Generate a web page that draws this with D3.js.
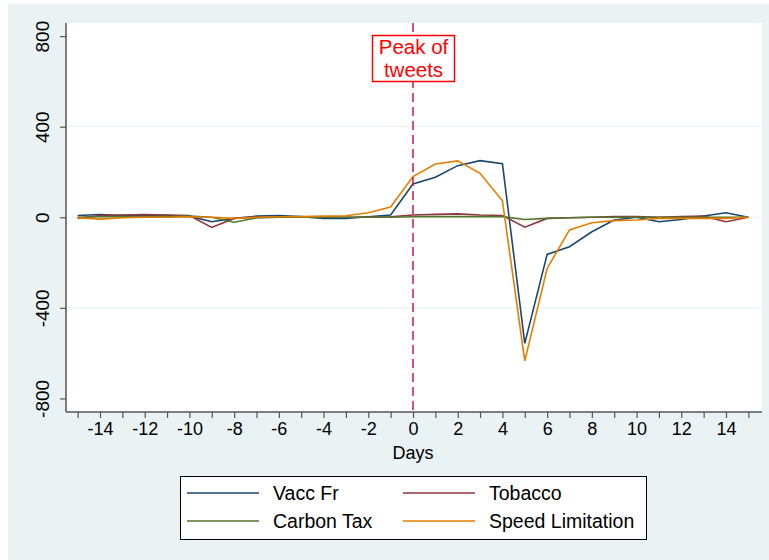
<!DOCTYPE html>
<html>
<head>
<meta charset="utf-8">
<script src="https://cdn.jsdelivr.net/npm/d3@7"></script>
<style>
  html, body { margin: 0; padding: 0; background: #ffffff; }
  svg { display: block; }
  text { font-family: "Liberation Sans", Arial, sans-serif; }
</style>
</head>
<body>
<svg id="chart" width="769" height="560"></svg>
<script>
// Days relative to the peak of tweets
const days = d3.range(-15, 16);

// Daily deviations per topic
const vaccFr = [8, 12, 8, 8, 8, 5, -20, -5, 5, 8, 3, -5, -5, 2, 10,
                147, 177, 228, 250, 237, -557, -164, -130, -64, -12, 0, -20, -10, 6, 20, 0];
const tobacco = [-5, 8, 10, 12, 10, 8, -45, -5, 0, 0, 0, 0, 0, 0, 2,
                 10, 13, 15, 10, 8, -44, -5, -2, 0, 3, 3, 0, 3, 5, -20, 0];
const carbonTax = [0, 2, 3, 3, 3, 5, 0, -22, -3, 0, 0, 0, 0, 0, 0,
                   2, 3, 3, 3, 3, -10, -5, -2, 0, 0, 0, 0, 0, 0, 0, 0];
const speedLimit = [-2, -8, -2, 0, 0, 2, 0, -5, 0, 2, 3, 5, 7, 20, 45,
                    180, 235, 249, 194, 73, -634, -226, -56, -24, -15, -12, -5, -5, -5, -5, 0];

const seriesNames = ["Vacc Fr", "Tobacco", "Carbon Tax", "Speed Limitation"];
const seriesValues = [vaccFr, tobacco, carbonTax, speedLimit];
const seriesColors = ["#1A476F", "#90353B", "#55752F", "#E37E00"];

const yTicks = [-800, -400, 0, 400, 800];
const xLabelTicks = d3.range(-14, 15, 2);
const peakLabel = ["Peak of", "tweets"];

// Plain hyphen for negative numbers
const fmt = d => String(d);

const svg = d3.select("#chart");

// Outer graph region
svg.append("rect").attr("x", 8).attr("y", 4).attr("width", 761).attr("height", 556)
  .attr("fill", "#EAF2F3");

const plot = { left: 66, right: 762, top: 23, bottom: 412 };

svg.append("rect")
  .attr("x", plot.left).attr("y", plot.top)
  .attr("width", plot.right - plot.left).attr("height", plot.bottom - plot.top)
  .attr("fill", "#ffffff");

const x = d3.scaleLinear().domain([-15.52, 15.61]).range([plot.left, plot.right]);
const y = d3.scaleLinear().domain([-860, 858]).range([plot.bottom, plot.top]);

// Horizontal grid lines
svg.append("g").selectAll("line")
  .data(yTicks.filter(v => Math.abs(v) < 800))
  .join("line")
  .attr("x1", plot.left).attr("x2", plot.right)
  .attr("y1", d => y(d)).attr("y2", d => y(d))
  .attr("stroke", "#EAF2F3").attr("stroke-width", 1.2);

// Y axis
const yAxis = svg.append("g")
  .attr("transform", `translate(${plot.left},0)`)
  .call(d3.axisLeft(y).tickValues(yTicks).tickSize(6).tickPadding(0).tickFormat(fmt));
yAxis.select(".domain").attr("stroke", "#555555").attr("stroke-width", 1.5)
  .attr("d", `M0,${plot.top}V${plot.bottom}`);
yAxis.selectAll(".tick line").attr("stroke", "#555555").attr("stroke-width", 1.2);
yAxis.selectAll(".tick text")
  .attr("font-size", 19).attr("fill", "#000")
  .attr("text-anchor", "middle")
  .attr("x", 0).attr("dy", 0)
  .attr("transform", "translate(-17,0) rotate(-90)");

// X axis: a tick every day, labels every second day
const xAxis = svg.append("g")
  .attr("transform", `translate(0,${plot.bottom})`)
  .call(d3.axisBottom(x).tickValues(days).tickSize(6).tickPadding(4)
    .tickFormat(d => xLabelTicks.includes(d) ? fmt(d) : ""));
xAxis.select(".domain").attr("stroke", "#555555").attr("stroke-width", 1.5)
  .attr("d", `M${plot.left},0H${plot.right}`);
xAxis.selectAll(".tick line").attr("stroke", "#555555").attr("stroke-width", 1.2);
xAxis.selectAll(".tick text").attr("font-size", 18).attr("fill", "#000");

svg.append("text")
  .attr("x", x(0)).attr("y", 459)
  .attr("text-anchor", "middle").attr("font-size", 18)
  .text("Days");

// Series lines
const line = d3.line().x((d, i) => x(days[i])).y(d => y(d));
svg.append("g").selectAll("path")
  .data(seriesValues)
  .join("path")
  .attr("d", d => line(d))
  .attr("fill", "none")
  .attr("stroke", (d, i) => seriesColors[i])
  .attr("stroke-width", 1.6)
  .attr("stroke-linejoin", "miter");

// Peak marker
svg.append("line")
  .attr("x1", x(0)).attr("x2", x(0))
  .attr("y1", plot.top).attr("y2", plot.bottom)
  .attr("stroke", "#C8174B").attr("stroke-width", 1.5)
  .attr("stroke-dasharray", "9,5");

const box = svg.append("g");
box.append("rect")
  .attr("x", 372.5).attr("y", 35.5).attr("width", 82).attr("height", 46)
  .attr("fill", "#ffffff").attr("stroke", "#FF0000").attr("stroke-width", 1.5);
box.selectAll("text")
  .data(peakLabel)
  .join("text")
  .attr("x", 413.5).attr("y", (d, i) => 54 + i * 23)
  .attr("text-anchor", "middle").attr("font-size", 20.5)
  .attr("fill", "#FF0000")
  .text(d => d);

// Legend
const legend = svg.append("g");
legend.append("rect")
  .attr("x", 180.5).attr("y", 476.5).attr("width", 466).attr("height", 63)
  .attr("fill", "#ffffff").attr("stroke", "#000000").attr("stroke-width", 1);
const legendItems = legend.selectAll("g.item")
  .data(seriesNames)
  .join("g")
  .attr("class", "item")
  .attr("transform", (d, i) => `translate(${i % 2 === 0 ? 187 : 403},${i < 2 ? 493 : 521})`);
legendItems.append("line")
  .attr("x1", 0).attr("x2", 72).attr("y1", 0).attr("y2", 0)
  .attr("stroke", (d, i) => seriesColors[i]).attr("stroke-width", 1.6);
legendItems.append("text")
  .attr("x", 86).attr("y", 7)
  .attr("font-size", 19.5)
  .text(d => d);
</script>
</body>
</html>
